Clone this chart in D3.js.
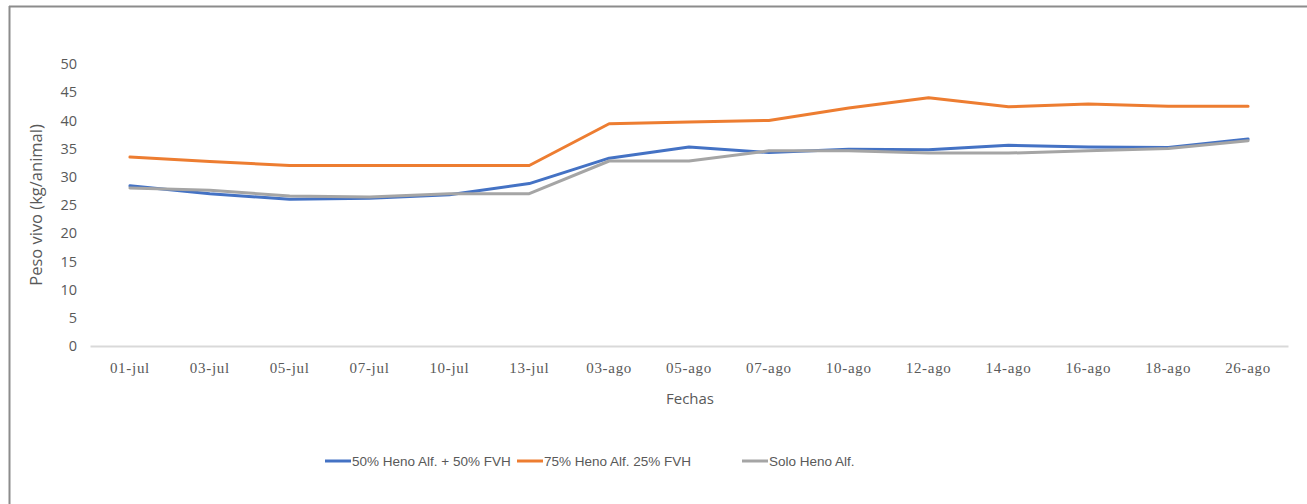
<!DOCTYPE html>
<html>
<head>
<meta charset="utf-8">
<script src="https://cdn.jsdelivr.net/npm/d3@7"></script>
<style>
  html, body { margin: 0; padding: 0; background: #fff; }
  svg { display: block; }
</style>
</head>
<body>
<svg id="chart" width="1307" height="504"></svg>
<script>
// Fechas de pesaje
const fechas = ["01-jul","03-jul","05-jul","07-jul","10-jul","13-jul","03-ago","05-ago","07-ago","10-ago","12-ago","14-ago","16-ago","18-ago","26-ago"];

// Peso vivo promedio (kg/animal) por tratamiento
const heno50fvh50 = [28.4, 27.0, 26.0, 26.2, 26.8, 28.8, 33.3, 35.3, 34.3, 34.9, 34.8, 35.6, 35.3, 35.2, 36.7];
const heno75fvh25 = [33.5, 32.7, 32.0, 32.0, 32.0, 32.0, 39.4, 39.7, 40.0, 42.2, 44.0, 42.4, 42.9, 42.5, 42.5];
const soloHeno    = [28.0, 27.6, 26.6, 26.4, 27.0, 27.0, 32.8, 32.8, 34.6, 34.6, 34.2, 34.2, 34.6, 35.0, 36.4];

const yTicks = [0, 5, 10, 15, 20, 25, 30, 35, 40, 45, 50];

const seriesNames = ["50% Heno Alf. + 50% FVH", "75% Heno Alf. 25% FVH", "Solo Heno Alf."];
const seriesColors = ["#4472C4", "#ED7D31", "#A5A5A5"];
const seriesValues = [heno50fvh50, heno75fvh25, soloHeno];

const svg = d3.select("#chart");

// marco del gráfico
svg.append("line").attr("x1", 9.5).attr("x2", 9.5).attr("y1", 6).attr("y2", 504)
  .attr("stroke", "#8c8c8c").attr("stroke-width", 2);
svg.append("line").attr("x1", 9).attr("x2", 1307).attr("y1", 6.5).attr("y2", 6.5)
  .attr("stroke", "#8c8c8c").attr("stroke-width", 2);

const plotLeft = 92, plotRight = 1288, plotTop = 64, plotBottom = 346;

const x = d3.scaleBand().domain(fechas).range([plotLeft - 2, plotRight]);
const y = d3.scaleLinear().domain([0, 50]).range([plotBottom, plotTop]);

// eje Y
const yAxis = svg.append("g")
  .attr("transform", `translate(${plotLeft},0)`)
  .call(d3.axisLeft(y).tickValues(yTicks).tickSize(0).tickPadding(15));
yAxis.select(".domain").remove();
yAxis.selectAll("text")
  .attr("font-family", "'Open Sans', 'Liberation Sans', sans-serif")
  .attr("font-size", 14.5)
  .attr("fill", "#595959");

// eje X
const xAxis = svg.append("g")
  .attr("transform", `translate(0,${plotBottom})`)
  .call(d3.axisBottom(x).tickSize(0).tickPadding(16));
xAxis.select(".domain").attr("stroke", "#d9d9d9").attr("stroke-width", 2);
xAxis.selectAll("text")
  .attr("font-family", "'Liberation Serif', 'DejaVu Serif', serif")
  .attr("font-size", 15)
  .attr("letter-spacing", "0.7px")
  .attr("fill", "#595959");

// títulos de ejes
svg.append("text")
  .attr("x", (plotLeft + plotRight) / 2).attr("y", 404)
  .attr("text-anchor", "middle")
  .attr("font-family", "'Open Sans', 'Liberation Sans', sans-serif")
  .attr("font-size", 15).attr("fill", "#595959")
  .text("Fechas");

svg.append("text")
  .attr("transform", `translate(42,${(plotTop + plotBottom) / 2}) rotate(-90)`)
  .attr("text-anchor", "middle")
  .attr("font-family", "'Open Sans', 'Liberation Sans', sans-serif")
  .attr("font-size", 16.5).attr("fill", "#595959")
  .text("Peso vivo (kg/animal)");

// líneas de las series
const line = d3.line()
  .x((d, i) => x(fechas[i]) + x.bandwidth() / 2)
  .y(d => y(d));

seriesValues.forEach((vals, k) => {
  svg.append("path")
    .datum(vals)
    .attr("fill", "none")
    .attr("stroke", seriesColors[k])
    .attr("stroke-width", 3)
    .attr("stroke-linejoin", "round")
    .attr("stroke-linecap", "round")
    .attr("d", line);
});

// leyenda
const legendX = [325, 517, 742];
const legend = svg.append("g");
seriesNames.forEach((name, k) => {
  const g = legend.append("g").attr("transform", `translate(${legendX[k]},461)`);
  g.append("line").attr("x1", 0).attr("x2", 26).attr("y1", 0).attr("y2", 0)
    .attr("stroke", seriesColors[k]).attr("stroke-width", 3);
  g.append("text").attr("x", 27).attr("y", 0).attr("dy", "0.35em")
    .attr("font-family", "'Liberation Sans Narrow', 'Liberation Sans', sans-serif")
    .attr("font-size", 13.5).attr("fill", "#595959")
    .text(name);
});
</script>
</body>
</html>
